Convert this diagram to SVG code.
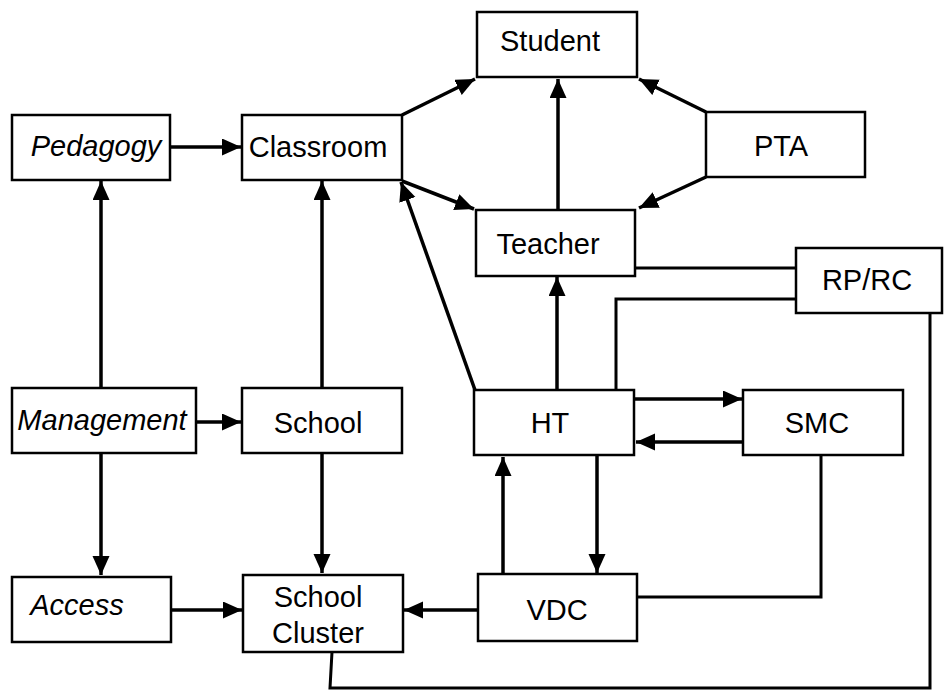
<svg xmlns="http://www.w3.org/2000/svg" width="946" height="691" viewBox="0 0 946 691">
<style>
.box{fill:#fff;stroke:#000;stroke-width:2.5}
.t{font-family:"Liberation Sans",Arial,sans-serif;font-size:29px;fill:#000;text-anchor:middle}
.i{font-style:italic}
.a{stroke:#000;stroke-width:3.5;fill:none;marker-end:url(#ah)}
.l{stroke:#000;stroke-width:3;fill:none}
</style>
<defs>
<marker id="ah" markerUnits="userSpaceOnUse" markerWidth="20" markerHeight="18" refX="19" refY="8.5" orient="auto">
<path d="M0,0 L19,8.5 L0,17 z" fill="#000"/>
</marker>
</defs>
<rect width="946" height="691" fill="#fff"/>
<g id="connectors">
<line class="a" x1="170" y1="147" x2="241" y2="147"/>
<line class="a" x1="101" y1="388" x2="101" y2="181"/>
<line class="a" x1="196" y1="422" x2="241" y2="422"/>
<line class="a" x1="101" y1="453" x2="101" y2="575"/>
<line class="a" x1="322" y1="388" x2="322" y2="181"/>
<line class="a" x1="322" y1="453" x2="322" y2="573"/>
<line class="a" x1="171" y1="610" x2="242" y2="610"/>
<line class="a" x1="478" y1="610" x2="404" y2="610"/>
<line class="a" x1="402" y1="115" x2="475" y2="79"/>
<line class="a" x1="402" y1="181" x2="474" y2="209"/>
<line class="a" x1="706" y1="112" x2="639" y2="79"/>
<line class="a" x1="706" y1="177" x2="639" y2="208"/>
<line class="a" x1="558" y1="210" x2="558" y2="79"/>
<line class="a" x1="557" y1="390" x2="557" y2="277"/>
<line class="a" x1="475" y1="390" x2="401" y2="182"/>
<line class="a" x1="634" y1="399" x2="742" y2="399"/>
<line class="a" x1="743" y1="442" x2="636" y2="442"/>
<line class="a" x1="597" y1="455" x2="597" y2="573"/>
<line class="a" x1="503" y1="574" x2="503" y2="457"/>
<line class="l" x1="635" y1="268" x2="796" y2="268"/>
<polyline class="l" stroke-width="2.5" points="796,299 616,299 616,390"/>
<polyline class="l" points="821,455 821,597 637,597"/>
<polyline class="l" points="332,652 330,688 930,688 930,313"/>
</g>
<g id="student"><rect class="box" x="477" y="12" width="160" height="65"/><text class="t" x="550" y="51">Student</text></g>
<g id="pedagogy"><rect class="box" x="12" y="115" width="158" height="65"/><text class="t i" x="96" y="156">Pedagogy</text></g>
<g id="classroom"><rect class="box" x="242" y="115" width="160" height="65"/><text class="t" x="318" y="157">Classroom</text></g>
<g id="pta"><rect class="box" x="706" y="112" width="159" height="65"/><text class="t" x="781" y="156">PTA</text></g>
<g id="teacher"><rect class="box" x="476" y="210" width="159" height="66"/><text class="t" x="548" y="254">Teacher</text></g>
<g id="rprc"><rect class="box" x="796" y="248" width="146" height="65"/><text class="t" x="867" y="290">RP/RC</text></g>
<g id="management"><rect class="box" x="12" y="388" width="184" height="65"/><text class="t i" x="102" y="430">Management</text></g>
<g id="school"><rect class="box" x="242" y="388" width="160" height="65"/><text class="t" x="318" y="433">School</text></g>
<g id="ht"><rect class="box" x="474" y="390" width="160" height="65"/><text class="t" x="550" y="433">HT</text></g>
<g id="smc"><rect class="box" x="743" y="390" width="160" height="65"/><text class="t" x="817" y="433">SMC</text></g>
<g id="access"><rect class="box" x="12" y="577" width="159" height="65"/><text class="t i" x="77" y="615">Access</text></g>
<g id="schoolcluster"><rect class="box" x="243" y="575" width="160" height="77"/><text class="t" x="318" y="607">School</text><text class="t" x="318" y="643">Cluster</text></g>
<g id="vdc"><rect class="box" x="478" y="574" width="159" height="67"/><text class="t" x="557" y="620">VDC</text></g>
</svg>
